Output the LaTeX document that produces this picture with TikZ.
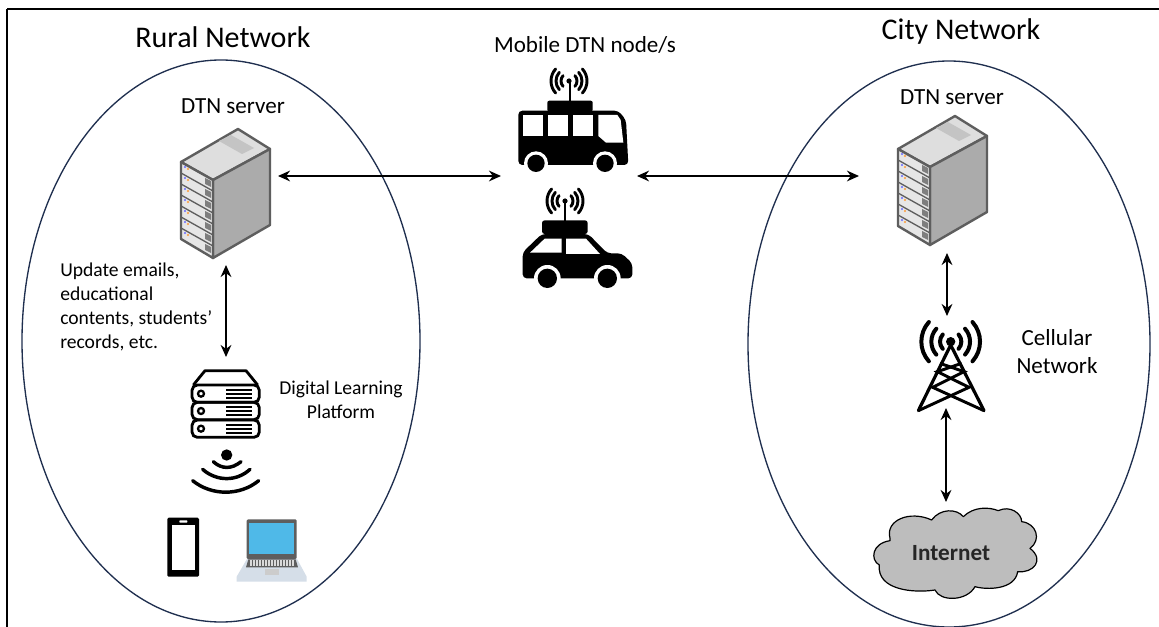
\documentclass[tikz,border=0pt]{standalone}
\usepackage{fontspec}
\setmainfont{Carlito}
\usetikzlibrary{arrows.meta}
\definecolor{ringblue}{HTML}{1F2F4F}
\definecolor{cloudgrey}{HTML}{BDBDBD}
\definecolor{srvtop}{HTML}{DEDEDE}
\definecolor{srvside}{HTML}{ABABAB}
\definecolor{srvedge}{HTML}{5E5E5E}
\definecolor{srvfront}{HTML}{E6E6E6}
\definecolor{screenblue}{HTML}{4FB9E8}
\definecolor{laptopgrey}{HTML}{D5DEE8}
\tikzset{
  x=0.75pt,y=-0.75pt,
  ring/.style={draw=ringblue,line width=1pt},
  biarrow/.style={{Stealth[length=9pt,width=8pt]}-{Stealth[length=9pt,width=8pt]},line width=2.2pt,black},
  title/.style={font=\fontsize{22.5}{26}\selectfont,anchor=center,inner sep=0pt},
  label/.style={font=\fontsize{14.7}{18}\selectfont,anchor=center,inner sep=0pt,align=center},
  biglabel/.style={font=\fontsize{17.3}{21}\selectfont,anchor=center,inner sep=0pt,align=center},
  wave/.style={line width=2.2pt,line cap=round,draw=black}
}
% #1 x, #2 y (top apex)
\newcommand{\srv}[2]{%
\begin{scope}[shift={(#1,#2)}]
 \fill[srvtop,draw=srvedge,line width=1.8pt,line join=round] (0,0)--(32,20)--(-25,51)--(-57,33)--cycle;
 \fill[srvside,draw=srvedge,line width=1.8pt,line join=round] (32,20)--(32,96)--(-25,129)--(-25,51)--cycle;
 \fill[srvfront,draw=srvedge,line width=1.8pt,line join=round] (-57,33)--(-25,51)--(-25,129)--(-57,110)--cycle;
 \fill[srvside!70] (-7,6)--(16,19)--(4,25)--(-19,12)--cycle;
 \foreach \i in {1,...,6}{
  \draw[srvedge,line width=1pt] (-57,{33+11*\i})--(-25,{51+11*\i});
 }
 \foreach \i in {0,...,6}{
  \fill[srvedge!80] (-33,{49+11*\i})--(-27,{52+11*\i})--(-27,{58+11*\i})--(-33,{55+11*\i})--cycle;
  \fill[orange!80] (-50,{40+11*\i}) circle[radius=1.2];
  \fill[blue!60] (-53,{38+11*\i}) circle[radius=1.2];
 }
\end{scope}}
% antenna waves centred at (#1,#2)
\newcommand{\waves}[2]{%
\begin{scope}[shift={(#1,#2)}]
 \fill (0,0) circle[radius=2.6];
 \foreach \r in {8,13,18}{
  \draw[wave] (-42:\r) arc[start angle=42,end angle=-42,radius=\r*0.75pt];
  \draw[wave] (222:\r) arc[start angle=138,end angle=222,radius=\r*0.75pt];
 }
\end{scope}}
\begin{document}
\begin{tikzpicture}
\useasboundingbox (0,0) rectangle (1159,627);
\fill[white] (0,0) rectangle (1159,627);
\draw[black,line width=1pt] (7,9) -- (1159,9);
\draw[black,line width=1pt] (7,9) -- (7,627);

\node[inner sep=0pt,minimum size=0pt] (ruralc) at (221,341) {};
\node[inner sep=0pt,minimum size=0pt] (cityc) at (949,344) {};
\draw[ring] (ruralc) ellipse[x radius=199,y radius=281];
\draw[ring] (cityc) ellipse[x radius=201,y radius=283];

\node[title] (tr) at (223,37) {Rural Network};
\node[title] (tc) at (961,32) {City Network};
\node[biglabel] (tm) at (585,45) {Mobile DTN node/s};
\node[biglabel] (s1) at (233,106) {DTN server};
\node[biglabel] (s2) at (952,97) {DTN server};
\node[label,align=left,anchor=west] (upd) at (60,307) {Update emails,\\educational\\contents, students'\\records, etc.};
\node[label] (dlp) at (341,400) {Digital Learning\\Platform};
\node[biglabel] (cell) at (1057,352) {Cellular\\Network};

\srv{238}{129}
\srv{955}{116}

% anchors for connectors
\coordinate (srvL) at (278,176);
\coordinate (busL) at (501,176);
\coordinate (busR) at (637,176);
\coordinate (srvR) at (859,176);
\coordinate (srvDown) at (226,265);
\coordinate (dlpUp) at (226,357);
\coordinate (citySrvDown) at (947,253);
\coordinate (towerUp) at (947,316);
\coordinate (towerDown) at (946,408);
\coordinate (cloudUp) at (946,502);
\draw[biarrow] (srvL) -- (busL);
\draw[biarrow] (busR) -- (srvR);
\draw[biarrow] (srvDown) -- (dlpUp);
\draw[biarrow] (citySrvDown) -- (towerUp);
\draw[biarrow] (towerDown) -- (cloudUp);

% bus
\begin{scope}[shift={(480,60)},x=0.25pt,y=-0.25pt]
 \fill (267,60) rectangle (273,125);
 \fill[rounded corners=1.5pt] (202,122) rectangle (338,155);
 \fill[rounded corners=3pt] (115,152)--(415,152)--(438,180)--(445,315)--(115,315)--cycle;
 \fill[white] (130,165) rectangle (190,228);
 \fill[white] (205,165) rectangle (265,228);
 \fill[white] (280,165) rectangle (340,228);
 \fill[white] (355,165)--(412,165)--(422,180)--(430,248)--(378,248)--(355,228)--cycle;
 \fill[white] (168,310) circle[radius=36];
 \fill[white] (375,310) circle[radius=36];
 \fill (168,310) circle[radius=26];
 \fill (375,310) circle[radius=26];
\end{scope}
\waves{569}{81}
% car
\begin{scope}[shift={(480,60)},x=0.25pt,y=-0.25pt]
 \fill (251,425) rectangle (257,485);
 \fill[rounded corners=2pt] (186,481) rectangle (323,522);
 \fill[rounded corners=3pt] (128,577)--(185,522)--(325,522)--(382,580)--(425,580)--(457,610)--(457,655)--(128,655)--cycle;
 \fill[white] (150,578)--(194,536)--(245,536)--(245,578)--cycle;
 \fill[white] (258,536)--(318,536)--(360,582)--(258,582)--cycle;
 \fill[white] (202,655) circle[radius=40];
 \fill[white] (382,655) circle[radius=40];
 \fill (202,655) circle[radius=29];
 \fill (382,655) circle[radius=29];
\end{scope}
\waves{565}{201}

% rack icon
\begin{scope}[shift={(140,360)},x=0.25pt,y=-0.25pt]
 \draw[line width=2.1pt,line join=round] (160,75)--(195,32)--(318,32)--(353,75);
 \foreach \y in {75,127,180}{
  \draw[line width=2.1pt,rounded corners=4pt] (156,\y) rectangle (358,{\y+52});
  \draw[line width=1.7pt] (183,{\y+26}) circle[radius=9];
  \draw[line width=1.5pt] (258,{\y+15})--(335,{\y+15}) (258,{\y+26})--(335,{\y+26}) (258,{\y+38})--(335,{\y+38});
 }
 % wifi
 \fill (260,285) circle[radius=17];
 \draw[line width=2.6pt,line cap=round] (220,305) .. controls (245,328) and (275,328) .. (303,305);
 \draw[line width=2.6pt,line cap=round] (188,328) .. controls (230,365) and (290,365) .. (330,328);
 \draw[line width=2.6pt,line cap=round] (158,362) .. controls (215,408) and (300,408) .. (356,362);
 % phone
 \fill[rounded corners=1pt] (82,473) rectangle (177,650);
 \fill[white] (96,495) rectangle (164,630);
 \fill[white,rounded corners=0.5pt] (118,481) rectangle (142,488);
 % laptop
 \fill[laptopgrey] (322,595)--(470,595)--(500,650)--(500,665)--(290,665)--(290,650)--cycle;
 \fill[srvedge,rounded corners=1pt] (320,478) rectangle (470,597);
 \fill[screenblue] (328,488) rectangle (462,582);
 \fill[srvedge] (325,598)--(467,598)--(474,622)--(318,622)--cycle;
 \foreach \k in {0,...,14}{\fill[white!85!black] ({330+9*\k},601) rectangle ({336+9*\k},618);}
 \fill[white!80!black] (375,628) rectangle (418,645);
\end{scope}

% tower
\begin{scope}[shift={(860,300)},x=0.25pt,y=-0.25pt]
 \draw[line width=2.4pt,line join=round,line cap=round] (175,332)--(272,135)--(372,332);
 \draw[line width=2.2pt] (175,332)--(327,262)--(232,215)--(305,190);
 \draw[line width=2.2pt] (372,332)--(218,262)--(312,215)--(240,190);
 \fill (272,125) circle[radius=14];
 \foreach \r/\a in {32/42,58/42,88/42}{
  \draw[line width=3pt,line cap=round] (272,125) ++(-\a:\r) arc[start angle=\a,end angle=-\a,radius=\r*0.25pt];
  \draw[line width=3pt,line cap=round] (272,125) ++(180+\a:\r) arc[start angle=180-\a,end angle=180+\a,radius=\r*0.25pt];
 }
 % cloud
 \draw[fill=cloudgrey,line width=0.9pt,line join=round]
  (90,715) .. controls (75,660) and (150,630) .. (215,660)
  .. controls (240,625) and (290,625) .. (310,650)
  .. controls (340,620) and (385,620) .. (415,632)
  .. controls (450,615) and (485,640) .. (485,665)
  .. controls (530,670) and (545,720) .. (510,745)
  .. controls (555,780) and (520,820) .. (473,815)
  .. controls (465,870) and (380,870) .. (345,860)
  .. controls (320,905) and (240,905) .. (225,870)
  .. controls (160,880) and (50,870) .. (58,795)
  .. controls (30,780) and (35,730) .. (90,722) -- cycle;
\end{scope}
\node[inner sep=0pt,font=\fontsize{17.4}{20}\selectfont\bfseries,text=black!85] (inet) at (951,553) {Internet};
\end{tikzpicture}
\end{document}
